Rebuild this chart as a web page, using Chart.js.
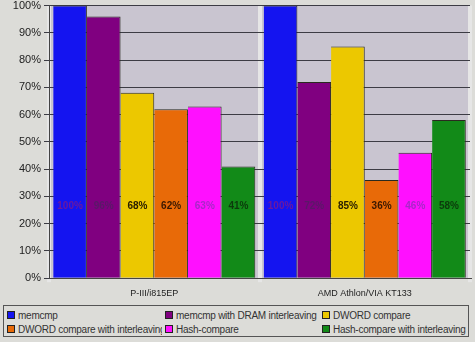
<!DOCTYPE html>
<html>
<head>
<meta charset="utf-8">
<script src="https://cdn.jsdelivr.net/npm/chart.js@4/dist/chart.umd.min.js"></script>
<style>
  html, body { margin: 0; padding: 0; background: #dcdcd8; }
  #wrap { position: relative; width: 475px; height: 342px; overflow: hidden; }
  #chart { position: absolute; left: 0; top: -4px; }
  #legend {
    position: absolute; left: 3px; top: 305px; width: 466px; height: 32px;
    border: 1px solid #555; background: #dcdcd8;
    display: grid; grid-template-columns: 158px 157px 150px; grid-auto-rows: 14px;
    padding-top: 2px; box-sizing: border-box;
    font: 10px "Liberation Sans", Arial, sans-serif; color: #333; letter-spacing: -0.25px;
  }
  #legend span { display: flex; align-items: center; padding-left: 3px; white-space: nowrap; overflow: hidden; }
  #legend i { flex: 0 0 auto; display: inline-block; width: 6px; height: 6px; border: 1px solid #222; margin-right: 3px; }
</style>
</head>
<body>
<div id="wrap">
  <canvas id="chart" width="475" height="309"></canvas>
  <div id="legend"></div>
</div>
<script>
const categories = ["P-III/i815EP", "AMD Athlon/VIA KT133"]
const seriesNames = [
  "memcmp",
  "memcmp with DRAM interleaving",
  "DWORD compare",
  "DWORD compare with interleaving",
  "Hash-compare",
  "Hash-compare with interleaving"
]
const memcmp     = [100, 100]
const memcmpDram = [96, 72]
const dwordCmp   = [68, 85]
const dwordInter = [62, 36]
const hashCmp    = [63, 46]
const hashInter  = [41, 58]

const fills  = ["#1414f0", "#800080", "#ecc800", "#e86a08", "#ff10ff", "#128a18"]
const inks   = ["#6a18a0", "#5a1868", "#2a2000", "#3a1800", "#a828c8", "#0c3a0c"]
const values = [memcmp, memcmpDram, dwordCmp, dwordInter, hashCmp, hashInter]

// Value labels sit on one line across all bars
const valueLabels = {
  id: "valueLabels",
  afterDatasetsDraw(chart) {
    const ctx = chart.ctx
    const y = chart.scales.y.getPixelForValue(26.5)
    ctx.save()
    ctx.font = "bold 10px 'Liberation Sans', Arial, sans-serif"
    ctx.textAlign = "center"
    ctx.textBaseline = "middle"
    chart.data.datasets.forEach((ds, i) => {
      chart.getDatasetMeta(i).data.forEach((bar, j) => {
        ctx.fillStyle = inks[i]
        ctx.fillText(ds.data[j] + "%", bar.x, y)
      })
    })
    ctx.restore()
  }
}

const plotBg = {
  id: "plotBg",
  beforeDraw(chart) {
    const { ctx, chartArea: a } = chart
    ctx.save()
    ctx.fillStyle = "#c9c5d0"
    ctx.fillRect(a.left, a.top, a.right - a.left, a.bottom - a.top)
    ctx.restore()
  }
}

new Chart(document.getElementById("chart"), {
  type: "bar",
  data: {
    labels: categories,
    datasets: seriesNames.map((name, i) => ({
      label: name,
      data: values[i],
      backgroundColor: fills[i],
      borderColor: "#2a2a20",
      borderWidth: { top: 1, right: 1, left: 0, bottom: 0 },
      barPercentage: 1.0,
      categoryPercentage: 0.96
    }))
  },
  options: {
    responsive: false,
    animation: false,
    layout: { padding: { top: 0, right: 5, left: 0, bottom: 0 } },
    plugins: { legend: { display: false }, tooltip: { enabled: false } },
    scales: {
      x: {
        grid: { offset: true, color: "#e6e6e6", lineWidth: 4, drawTicks: true, tickLength: 4 },
        border: { color: "#444", width: 1 },
        ticks: {
          color: "#222",
          font: { size: 9, family: "'Liberation Sans', Arial, sans-serif" },
          padding: 6
        }
      },
      y: {
        min: 0, max: 100,
        ticks: {
          stepSize: 10,
          color: "#222",
          font: { size: 11, family: "'Liberation Sans', Arial, sans-serif" },
          callback: v => v + "%",
          padding: 3
        },
        grid: { color: "#3c3c44", lineWidth: 1, tickLength: 5 },
        border: { color: "#444", width: 1 },
        afterFit(scale) { scale.width = 49 }
      }
    }
  },
  plugins: [plotBg, valueLabels]
})

const legend = document.getElementById("legend")
seriesNames.forEach((name, i) => {
  const item = document.createElement("span")
  const sw = document.createElement("i")
  sw.style.background = fills[i]
  item.appendChild(sw)
  item.appendChild(document.createTextNode(name))
  legend.appendChild(item)
})
</script>
</body>
</html>
